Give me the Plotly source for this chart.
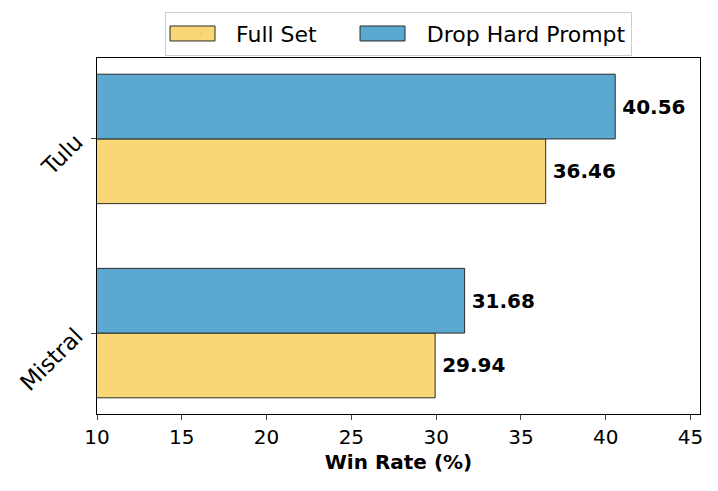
import plotly.graph_objects as go

models = ["Mistral", "Tulu"]
full_set = [29.94, 36.46]
drop_hard = [31.68, 40.56]
series_names = ["Full Set", "Drop Hard Prompt"]
x_ticks = [10, 15, 20, 25, 30, 35, 40, 45]

colors = ["#F9D776", "#5BA8D0"]
edge = "#2b2b2b"
font_family = "DejaVu Sans"

fig = go.Figure()
for name, vals, col in zip(series_names, [full_set, drop_hard], colors):
    fig.add_trace(go.Bar(
        y=models, x=vals, name=name, orientation="h",
        marker=dict(color=col, line=dict(color=edge, width=1)),
        text=[f"\u2009{v:.2f}" for v in vals],
        textposition="outside",
        textfont=dict(family=font_family, size=20, color="black", weight="bold"),
        cliponaxis=False, showlegend=False,
    ))

# legend entries (text) ; wide matplotlib-style patches drawn as shapes behind a transparent legend
legend_labels = [series_names[0] + "\u00a0" * 5, series_names[1]]
for lab in legend_labels:
    fig.add_trace(go.Scatter(x=[None], y=[None], mode="markers", name=lab,
                             marker=dict(opacity=0, size=1), showlegend=True))

patch_x = [(0.1211, 0.1957), (0.4362, 0.5108)]
for (x0, x1), col in zip(patch_x, colors):
    fig.add_shape(type="rect", xref="paper", yref="paper", x0=x0, x1=x1,
                  y0=1.0478, y1=1.0899, fillcolor=col, line=dict(color=edge, width=1),
                  layer="above")

# the page body adds an 8px margin around the figure, so the figure is sized to fit inside it
fig.update_layout(
    width=702, height=475,
    barmode="group", bargap=1/3, bargroupgap=0,
    plot_bgcolor="white", paper_bgcolor="white",
    font=dict(family=font_family, size=20, color="black"),
    margin=dict(l=89, r=10, t=50, b=69, autoexpand=False),
    legend=dict(
        orientation="h", x=0.5, xanchor="center", y=1.007, yanchor="bottom",
        bordercolor="#cccccc", borderwidth=1, bgcolor="rgba(255,255,255,0)",
        font=dict(family=font_family, size=22), traceorder="normal",
        itemwidth=60,
    ),
    showlegend=True,
)
fig.update_xaxes(
    range=[10, 45.56], tickvals=x_ticks, ticks="outside", ticklen=5, tickwidth=1.2,
    showline=True, linecolor="black", linewidth=1.3, mirror=True, showgrid=False,
    zeroline=False, automargin=False,
    title=dict(text="<b>Win Rate (%)</b>", font=dict(family=font_family, size=20), standoff=6),
    tickfont=dict(size=20),
)
fig.update_yaxes(
    range=[-0.4167, 1.4167], ticks="outside", ticklen=5, tickwidth=1.2,
    showline=True, linecolor="black", linewidth=1.3, mirror=True, showgrid=False,
    tickangle=-45, tickfont=dict(size=23), automargin=False, ticklabelstandoff=10,
)

fig.write_html("out.html")
